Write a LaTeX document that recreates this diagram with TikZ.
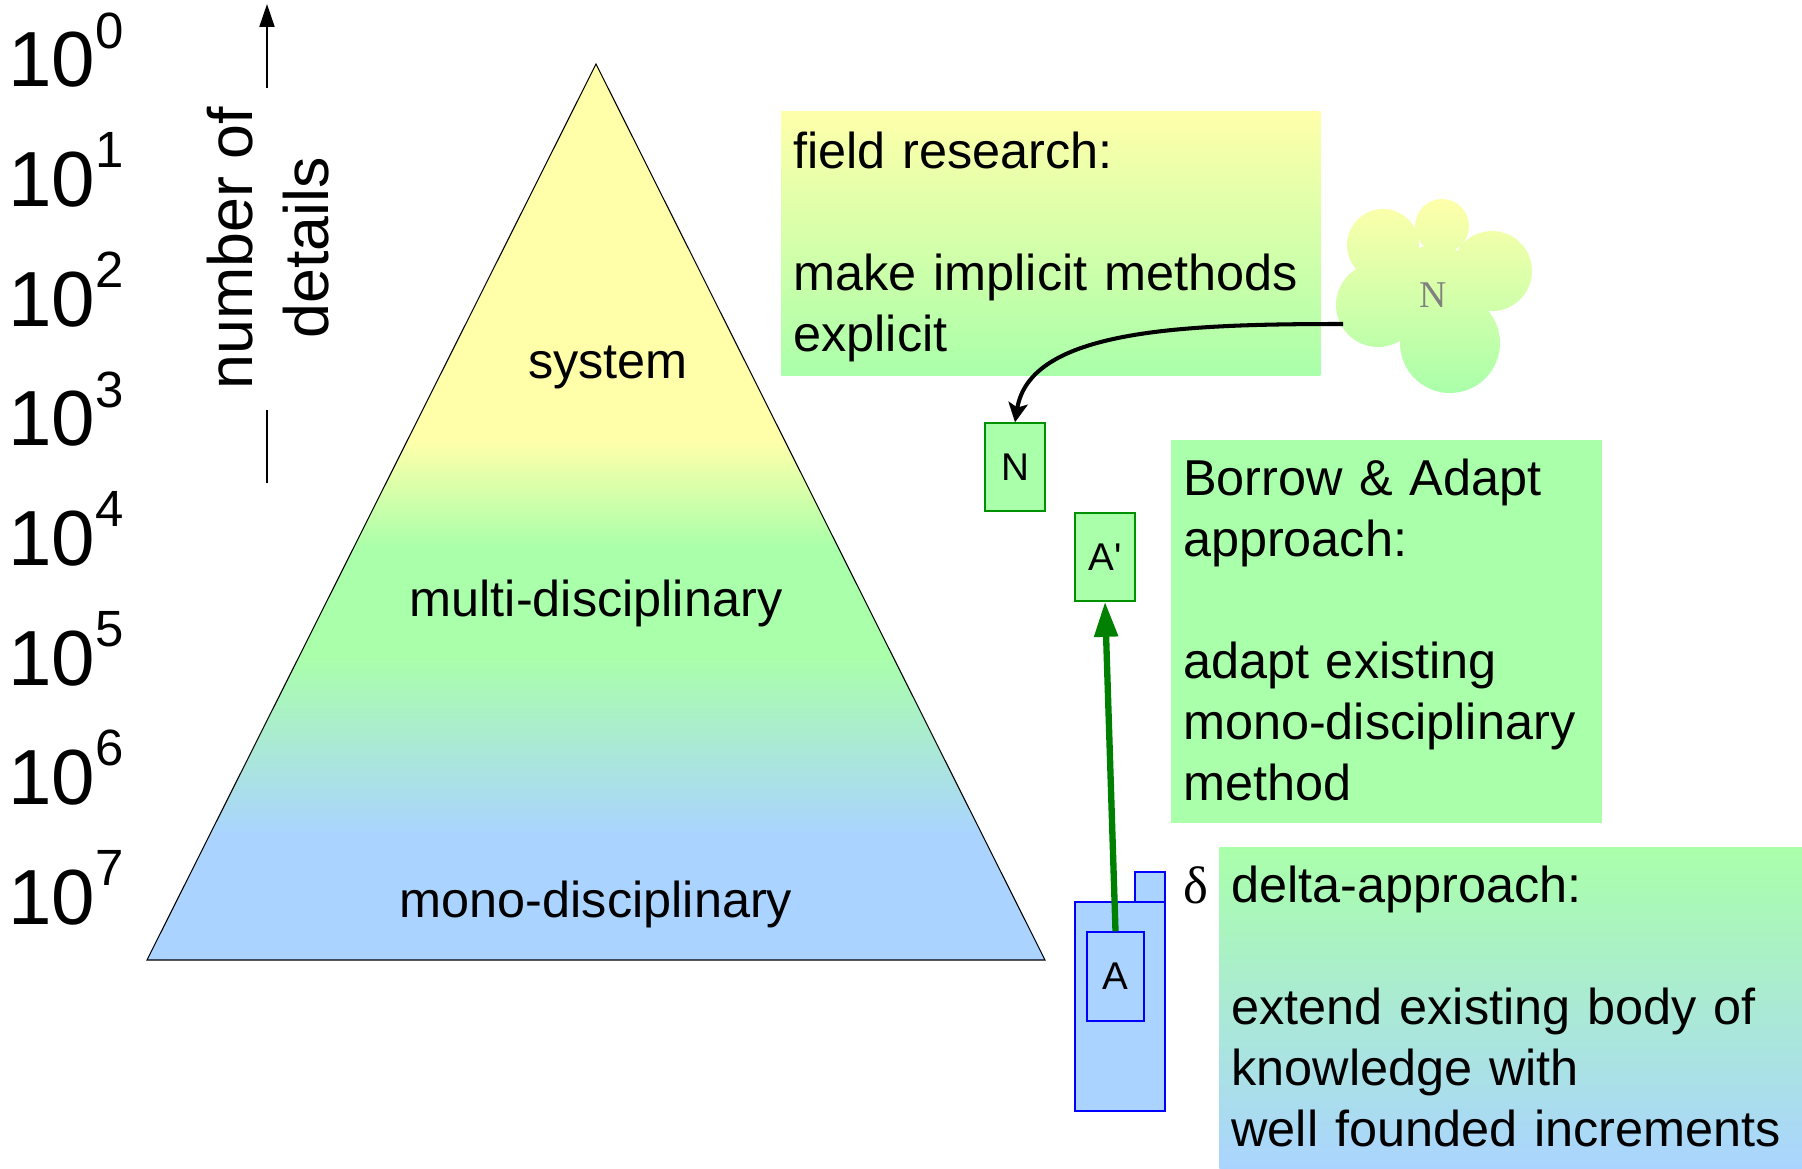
\documentclass[tikz,border=0pt]{standalone}
\usepackage{fontspec}
\setmainfont{Liberation Sans}
\newfontfamily\seriffont{Liberation Serif}
\usetikzlibrary{arrows.meta}
\definecolor{pyellow}{HTML}{FFFFAA}
\definecolor{pgreen}{HTML}{AAFFAA}
\definecolor{pblue}{HTML}{AAD4FF}
\definecolor{boxgreen}{HTML}{009000}
\definecolor{arrowgreen}{HTML}{008000}
\pgfdeclareverticalshading{pyramid}{100bp}{color(0bp)=(pblue); color(32bp)=(pblue); color(42bp)=(pgreen); color(48bp)=(pgreen); color(54bp)=(pyellow); color(100bp)=(pyellow)}

\begin{document}
\begin{tikzpicture}[x=0.02cm,y=-0.02cm,
    powlabel/.style={anchor=base west,inner sep=0pt,font=\fontsize{44.5}{46}\selectfont},
    trilabel/.style={anchor=base,inner sep=0pt,font=\fontsize{28.7}{34.7}\selectfont},
    notebox/.style={anchor=north west,align=left,inner xsep=6pt,inner ysep=0pt,font=\fontsize{28.7}{34.7}\selectfont},
    smallbox/.style={draw=boxgreen,fill=pgreen,line width=0.8pt,minimum width=1.2cm,minimum height=1.76cm,inner sep=0pt,font=\fontsize{22}{22}\selectfont}]
                \useasboundingbox (0,0) rectangle (1802,1169);
                % scale on the left
                \foreach \n in {0,...,7} {
                    \node[powlabel] (pow\n) at (8,{87+119.6*\n}) {10\raisebox{22pt}{\fontsize{29}{29}\selectfont\n}};
                }
                \node[rotate=90,align=center,inner sep=0pt,font=\fontsize{35.7}{43.7}\selectfont] (details) at (268,248) {number of\\details};
                \coordinate (axisbase) at (267,88);
                \coordinate (axistop) at (267,4);
                \draw[line width=1.1pt,-{Triangle[length=13pt,width=8.5pt]}] (axisbase) -- (axistop);
                \draw[line width=1.1pt] (267,410) -- (267,483);
                % pyramid
                \shadedraw[shading=pyramid,draw=black,line width=0.6pt] (147,960) -- (596,64) -- (1045,960) -- cycle;
                \node[trilabel] (system) at (608,378) {system};
                \node[trilabel] (multi) at (596,616) {multi-disciplinary};
                \node[trilabel] (mono) at (596,917) {mono-disciplinary};
                % text boxes
                \node[notebox,top color=pyellow,bottom color=pgreen,text width=293pt,minimum width=10.78cm,minimum height=5.28cm] (field) at (781,111)
                    {\rule{0pt}{29pt}field research:\\[34.7pt] \mbox{make implicit methods}\\ explicit\strut};
                \node[notebox,fill=pgreen,text width=232pt,minimum width=8.62cm,minimum height=7.66cm] (borrow) at (1171,440)
                    {\rule{0pt}{28.5pt}Borrow \& Adapt\\ approach:\\[34.7pt] adapt existing\\ mono-disciplinary\\ method\strut};
                \node[notebox,top color=pgreen,bottom color=pblue,text width=318pt,minimum width=11.66cm,minimum height=6.44cm] (deltabox) at (1219,847)
                    {\rule{0pt}{29pt}delta-approach:\\[34.7pt] extend existing body of\\ knowledge with\\ \mbox{well founded increments}\strut};
                \node[anchor=base,inner sep=0pt,font=\seriffont\fontsize{30}{30}\selectfont] (delta) at (1196,903) {δ};
                % cloud
                \shade[top color=pyellow,bottom color=pgreen] (1442,226) circle (27) (1383,245) circle (36) (1378,305) circle (42)
                    (1492,271) circle (40) (1450,343) circle (50) (1435,290) circle (45);
                \node[text=gray,font=\seriffont\fontsize{21.5}{22}\selectfont] (cloudN) at (1433,295) {N};
                \coordinate (cloudtip) at (1343,324);
                % method boxes
                \node[smallbox] (N) at (1015,467) {N};
                \node[smallbox] (Aprime) at (1105,557) {A\textquotesingle};
                \filldraw[fill=pblue,draw=blue,line width=0.8pt] (1075,902) rectangle (1165,1111);
                \filldraw[fill=pblue,draw=blue,line width=0.8pt] (1135,872) rectangle (1165,902);
                \node[draw=blue,fill=pblue,line width=0.8pt,minimum width=1.14cm,minimum height=1.78cm,inner sep=0pt,font=\fontsize{22}{22}\selectfont] (Ain) at (1115.5,976.5) {A};
                \draw[line width=2.3pt,-{Stealth[length=11pt,width=11pt,inset=2.5pt]}] (cloudtip) .. controls (1180,324) and (1030,330) .. (N.north);
                \draw[arrowgreen,line width=3.6pt,-{Triangle[length=20pt,width=13pt]}] (Ain.north) -- (Aprime.south);
\end{tikzpicture}
\end{document}
